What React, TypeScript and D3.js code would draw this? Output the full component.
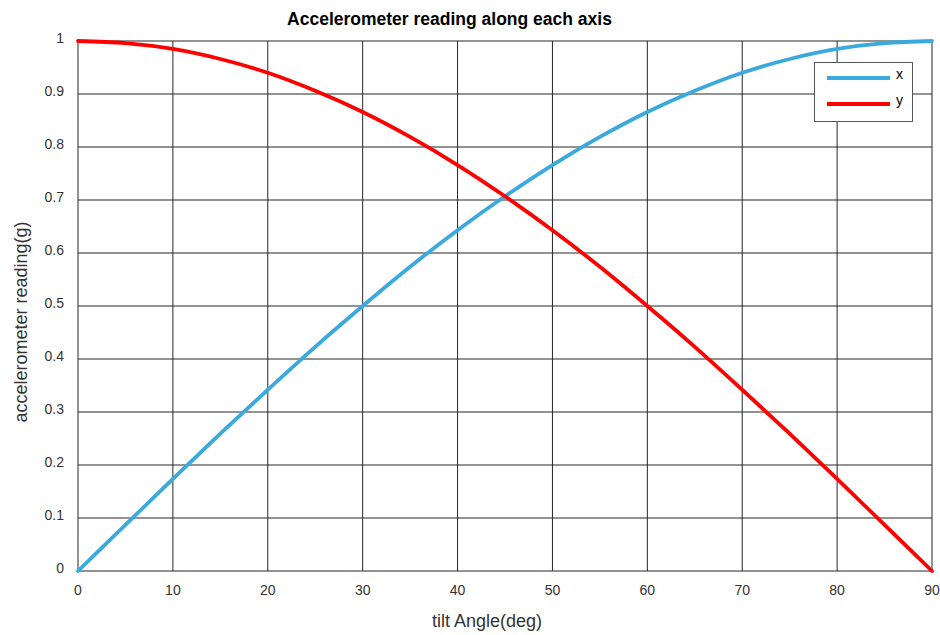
import React from "react";
import * as d3 from "d3";

const angles = [0, 5, 10, 15, 20, 25, 30, 35, 40, 45, 50, 55, 60, 65, 70, 75, 80, 85, 90];
const xValues = [0, 0.087, 0.174, 0.259, 0.342, 0.423, 0.5, 0.574, 0.643, 0.707, 0.766, 0.819, 0.866, 0.906, 0.94, 0.966, 0.985, 0.996, 1];
const yValues = [1, 0.996, 0.985, 0.966, 0.94, 0.906, 0.866, 0.819, 0.766, 0.707, 0.643, 0.574, 0.5, 0.423, 0.342, 0.259, 0.174, 0.087, 0];
const xTicks = [0, 10, 20, 30, 40, 50, 60, 70, 80, 90];
const yTicks = [0, 0.1, 0.2, 0.3, 0.4, 0.5, 0.6, 0.7, 0.8, 0.9, 1];
const seriesNames = ["x", "y"];
const seriesColors = ["#3aa9dd", "#ff0000"];

export default function App() {
  const W = 940, H = 635;
  const left = 78, right = 932, top = 41, bottom = 571;
  const x = d3.scaleLinear().domain([0, 90]).range([left, right]);
  const y = d3.scaleLinear().domain([0, 1]).range([bottom, top]);
  const line = d3
    .line<number>()
    .x((_, i) => x(angles[i]))
    .y((d) => y(d))
    .curve(d3.curveCatmullRom);
  const series = [xValues, yValues];
  const font = "'Liberation Sans', Arial, sans-serif";
  return (
    <svg width={W} height={H} style={{ position: "absolute", left: 0, top: 0, background: "#fff" }} fontFamily={font}>
      <rect x={0} y={0} width={W} height={H} fill="#fff" />
      <text x={449.5} y={25} textAnchor="middle" fontSize={17.5} fontWeight="bold" fill="#000">
        Accelerometer reading along each axis
      </text>
      {xTicks.map((t) => (
        <line key={"gx" + t} x1={x(t)} x2={x(t)} y1={top} y2={bottom} stroke="#262626" strokeWidth={1} />
      ))}
      {yTicks.map((t) => (
        <line key={"gy" + t} x1={left} x2={right} y1={y(t)} y2={y(t)} stroke="#262626" strokeWidth={1} />
      ))}
      {xTicks.map((t) => (
        <text key={"tx" + t} x={x(t)} y={595} textAnchor="middle" fontSize={14} fill="#333">
          {t}
        </text>
      ))}
      {yTicks.map((t) => (
        <text key={"ty" + t} x={64} y={y(t) + 2} textAnchor="end" fontSize={14} fill="#333">
          {t}
        </text>
      ))}
      <text x={487} y={627} textAnchor="middle" fontSize={18} fill="#333">
        tilt Angle(deg)
      </text>
      <text transform={`translate(27, 322) rotate(-90)`} textAnchor="middle" fontSize={18} fill="#333">
        accelerometer reading(g)
      </text>
      {series.map((s, i) => (
        <path key={"s" + i} d={line(s) || ""} fill="none" stroke={seriesColors[i]} strokeWidth={3.8} strokeLinecap="round" />
      ))}
      <rect x={814.5} y={62.5} width={98} height={59} fill="#fff" stroke="#555" strokeWidth={1} />
      {seriesNames.map((n, i) => (
        <g key={"l" + n}>
          <line x1={827} x2={890} y1={78 + i * 26} y2={78 + i * 26} stroke={seriesColors[i]} strokeWidth={4} />
          <text x={896} y={78 + i * 26 + 1} fontSize={14} fill="#000">
            {n}
          </text>
        </g>
      ))}
    </svg>
  );
}
